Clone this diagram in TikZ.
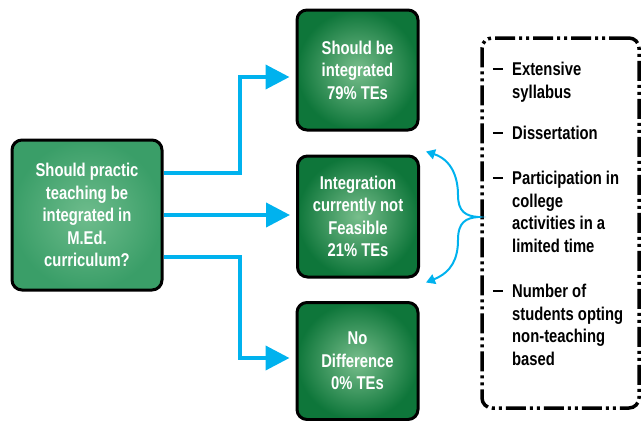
\documentclass[tikz,border=0pt]{standalone}
\usepackage{fontspec}
\setmainfont{Liberation Sans}[FakeStretch=0.8]
\usetikzlibrary{arrows.meta,calc}
\definecolor{cyanline}{RGB}{0,178,238}
\definecolor{gdark}{RGB}{14,118,58}
\definecolor{glight}{RGB}{120,190,140}
\definecolor{lgreen}{RGB}{58,158,104}
\definecolor{lgreenin}{RGB}{110,188,140}
\tikzset{
  box/.style={draw=black, line width=3pt, rounded corners=10pt, text=white,
    font=\bfseries\fontsize{18.5}{22.5}\selectfont, align=center, inner sep=0pt},
  resbox/.style={box, minimum width=121pt, minimum height=120pt,
    inner color=glight, outer color=gdark},
  conn/.style={draw=cyanline, line width=4pt, -{Triangle[length=24pt,width=24pt]}},
  bconn/.style={draw=cyanline, line width=2pt, {Triangle[length=9pt,width=10pt]}-{Triangle[length=9pt,width=10pt]}},
  reasons/.style={draw=black, line width=3.5pt, rounded corners=10pt,
    dash pattern=on 20pt off 4pt on 3pt off 4pt on 3pt off 4pt,
    minimum width=157pt, minimum height=370pt},
  item/.style={anchor=north west, align=left, text=black,
    font=\bfseries\fontsize{18.5}{22.5}\selectfont, inner sep=0pt},
  bullet/.style={anchor=east, inner sep=0pt}
}
\begin{document}
\begin{tikzpicture}[x=1pt,y=-1pt]
\useasboundingbox (0,0) rectangle (641,421);
\node[box, minimum width=150pt, minimum height=150pt, inner color=lgreenin, outer color=lgreen] (L) at (87,215)
  {Should practic\\teaching be\\integrated in\\M.Ed.\\curriculum?};
\node[resbox] (T) at (357.5,70) {Should be\\integrated\\79\% TEs};
\node[resbox, minimum height=121pt] (M) at (358,216.5) {Integration\\currently not\\Feasible\\21\% TEs};
\node[resbox, minimum height=117pt] (B) at (357.5,361) {No\\Difference\\0\% TEs};
\node[reasons] (R) at (560.5,223) {};
\node[item] (r1) at (512,62) {Extensive\\syllabus};
\node[item] (r2) at (512,126) {Dissertation};
\node[item] (r3) at (512,171) {Participation in\\college\\activities in a\\limited time};
\node[item] (r4) at (512,284) {Number of\\students opting\\non-teaching\\based};
\foreach \r in {r1,r2,r3,r4}
  \node[bullet] at ([xshift=-9pt,yshift=-7pt]\r.north west) {\rule{10pt}{1.8pt}};
\coordinate (j1) at (240,77);
\coordinate (j3) at (240,358);
\draw[conn, shorten >=6pt] ([yshift=42pt]L.east) -| (j1) -- (T.west |- j1);
\draw[conn, shorten >=6pt] (L.east) -- (L.east -| M.west);
\draw[conn, shorten >=6pt] ([yshift=-42pt]L.east) -| (j3) -- (B.west |- j3);
\coordinate (bt) at ([xshift=6pt,yshift=3pt]M.north east);
\coordinate (bb) at ([xshift=6pt,yshift=-4pt]M.south east);
\coordinate (btip) at (478,217);
\draw[bconn] (bt) .. controls (452,160) and (458,178) .. (458,195)
  .. controls (458,212) and (466,216) .. (btip)
  .. controls (466,218) and (458,222) .. (458,240)
  .. controls (458,258) and (452,272) .. (bb);
\end{tikzpicture}
\end{document}
